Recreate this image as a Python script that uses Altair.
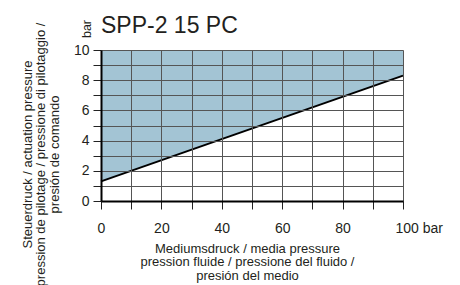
import altair as alt
import pandas as pd

# data
media_pressure = [0, 100]          # bar
actuation_min = [1.3, 8.3]         # bar
upper_limit = [10, 10]

x_ticks = list(range(0, 101, 10))
y_ticks = list(range(0, 11, 1))

title_text = "SPP-2 15 PC"
y_title = ["Steuerdruck / actuation pressure",
           "pression de pilotage / pressione di pilotaggio /",
           "presión de comando"]
x_title = ["Mediumsdruck / media pressure",
           "pression fluide / pressione del fluido /",
           "presión del medio"]
y_unit = "bar"

df = pd.DataFrame({"x": media_pressure, "y": actuation_min, "top": upper_limit})

FONT = "Liberation Sans"
TXT = "#231f20"

x_enc = alt.X("x:Q", scale=alt.Scale(domain=[0, 100], nice=False),
              axis=alt.Axis(values=x_ticks, grid=True, gridColor="#555", gridWidth=1,
                            domainColor="black", domainWidth=2,
                            tickColor="#222", tickSize=8, tickWidth=1,
                            labelExpr="datum.value % 20 == 0 ? (datum.value == 100 ? '100 bar' : datum.label) : ''",
                            labelAlign={"condition": {"test": "datum.value == 100", "value": "left"}, "value": "center"},
                            labelOffset={"condition": {"test": "datum.value == 100", "value": -8}, "value": 0},
                            labelFontSize=14, labelFont=FONT, labelColor=TXT, labelPadding=12,
                            labelOverlap=False,
                            title=x_title, titleFont=FONT, titleFontSize=13, titleFontWeight="normal",
                            titleColor=TXT, titleLineHeight=13.5, titleBaseline="alphabetic",
                            titleAlign="center", titleX=146, titleY=51, zindex=1))
y_enc = alt.Y("y:Q", scale=alt.Scale(domain=[0, 10], nice=False),
              axis=alt.Axis(values=y_ticks, grid=True, gridColor="#555", gridWidth=1,
                            domainColor="black", domainWidth=2,
                            tickColor="#222", tickSize=8, tickWidth=1,
                            labelExpr="datum.value % 2 == 0 ? datum.label : ''",
                            labelFontSize=14, labelFont=FONT, labelColor=TXT, labelPadding=4,
                            labelOverlap=False,
                            title=y_title, titleFont=FONT, titleFontSize=13, titleFontWeight="normal",
                            titleColor=TXT, titleLineHeight=13.5, titleAngle=270,
                            titleBaseline="alphabetic", titleAlign="center",
                            titleX=-70, titleY=104, zindex=1))

area = alt.Chart(df).mark_area(color="#a3c4d4", opacity=1).encode(
    x=x_enc, y=y_enc, y2="top:Q")
line = alt.Chart(df).mark_line(color="black", strokeWidth=2).encode(x=x_enc, y=y_enc)
unit = alt.Chart(pd.DataFrame({"t": [y_unit]})).mark_text(
    angle=270, align="center", baseline="alphabetic", font=FONT, fontSize=12.5, color=TXT
).encode(text="t:N", x=alt.value(-10), y=alt.value(-21))
head = alt.Chart(pd.DataFrame({"t": [title_text]})).mark_text(
    align="left", baseline="alphabetic", font=FONT, fontSize=23, color=TXT
).encode(text="t:N", x=alt.value(0), y=alt.value(-17))

chart = alt.layer(area, line, unit, head).properties(
    width=302, height=151,
    autosize=alt.AutoSizeParams(type="none"),
    padding={"left": 93, "top": 42, "right": 49, "bottom": 90},
).configure_view(stroke="black", strokeWidth=2).configure(background="white")

chart.save("out.html", embed_options={"renderer": "svg", "actions": False})
